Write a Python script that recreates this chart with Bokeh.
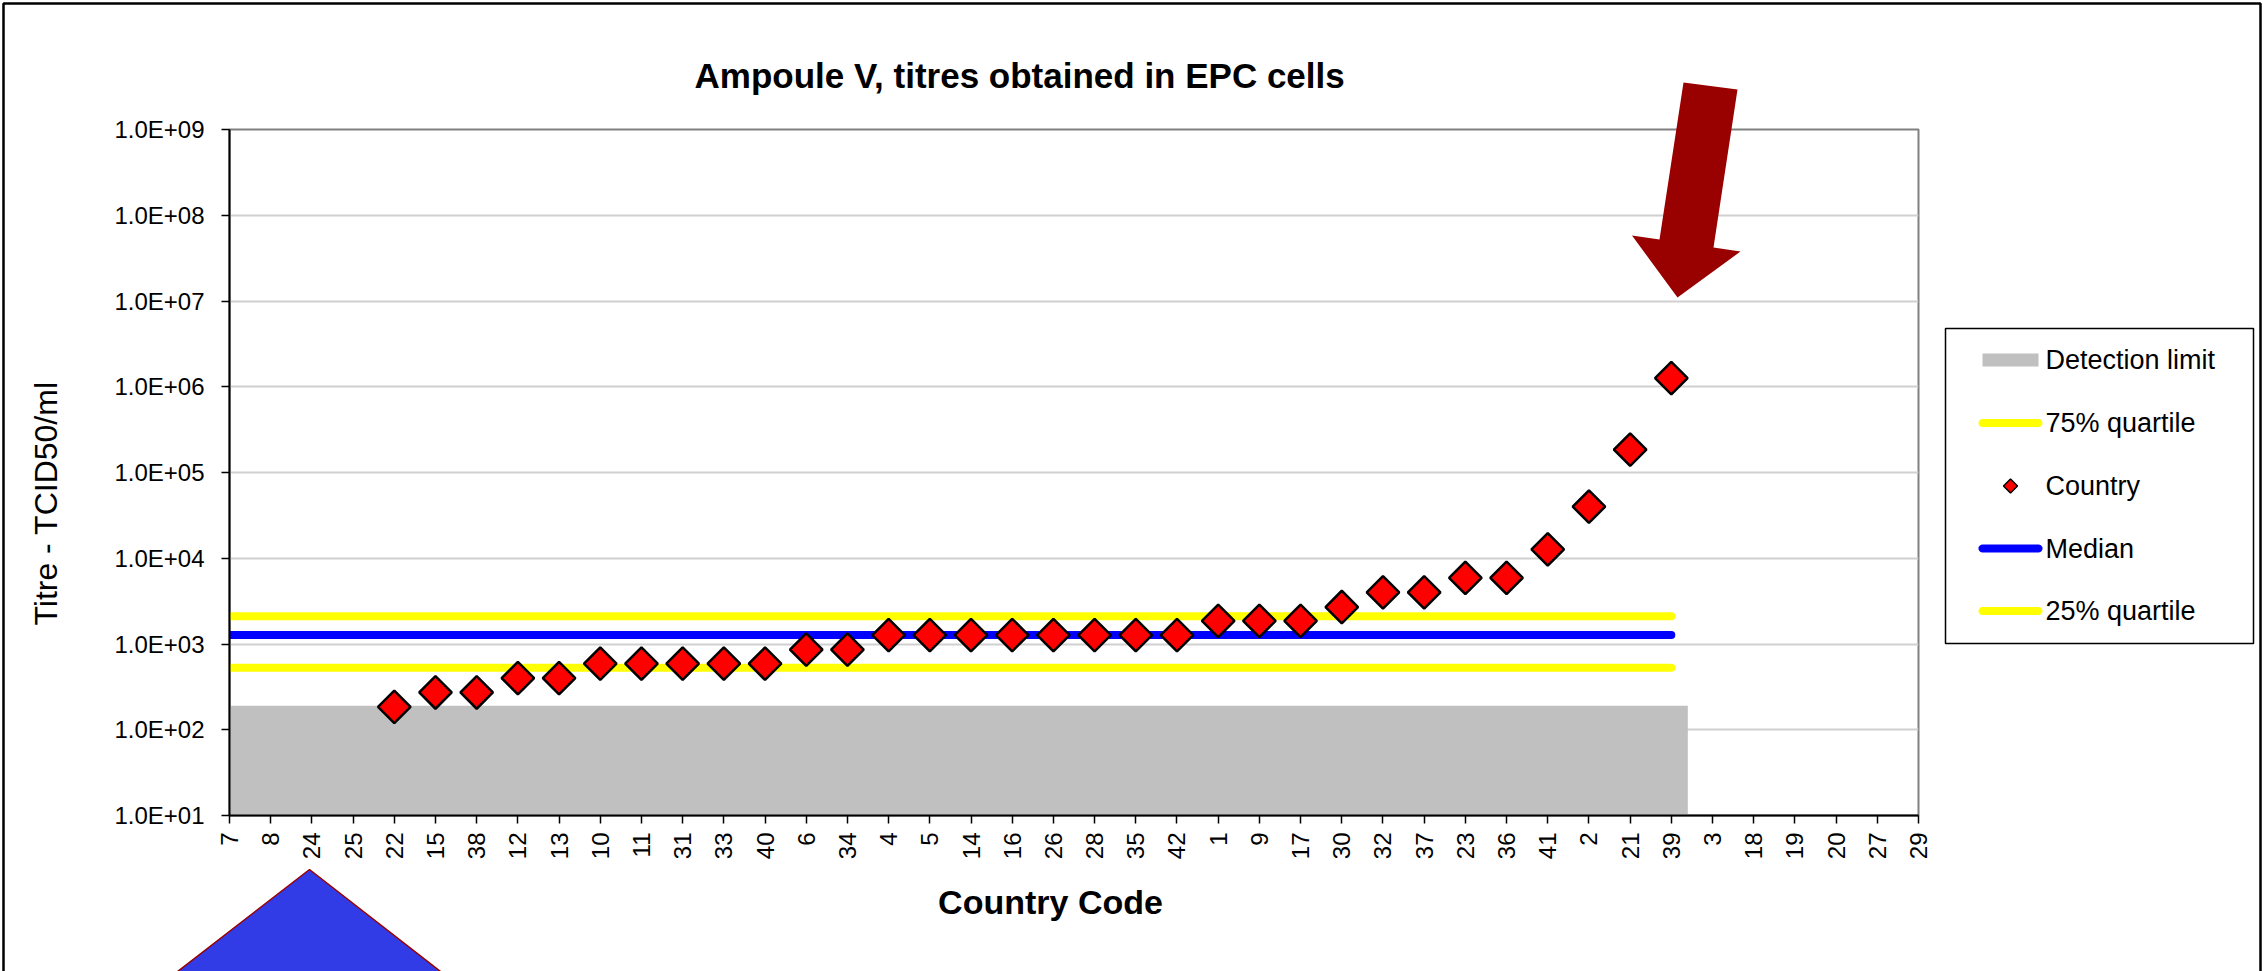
import math
from bokeh.plotting import figure
from bokeh.models import Range1d, FixedTicker
from bokeh.core.properties import value
from bokeh.embed import file_html
from bokeh.resources import INLINE

nan = float("nan")

# ---------------- data ----------------
country_codes = ["7", "8", "24", "25", "22", "15", "38", "12", "13", "10", "11", "31",
                 "33", "40", "6", "34", "4", "5", "14", "16", "26", "28", "35", "42",
                 "1", "9", "17", "30", "32", "37", "23", "36", "41", "2", "21", "39",
                 "3", "18", "19", "20", "27", "29"]
titres = [nan, nan, nan, nan,
          185, 272, 272, 400, 400,
          590, 590, 590, 590, 590,
          860, 860,
          1270, 1270, 1270, 1270, 1270, 1270, 1270, 1270,
          1860, 1860, 1860,
          2700, 4000, 4000, 5900, 5900,
          12700, 40000, 185000, 1260000,
          nan, nan, nan, nan, nan, nan]
detection_limit = 190
quartile_75 = 2100
median_titre = 1270
quartile_25 = 530
y_tick_values = [1e1, 1e2, 1e3, 1e4, 1e5, 1e6, 1e7, 1e8, 1e9]
legend_labels = ["Detection limit", "75% quartile", "Country", "Median", "25% quartile"]
title_text = "Ampoule V, titres obtained in EPC cells"
x_title = "Country Code"
y_title = "Titre - TCID50/ml"

FONT = "Liberation Sans"
GREY, YELLOW, BLUE, RED = "#C0C0C0", "#FFFF00", "#0000FF", "#FF0000"

# ---------------- layout ----------------
W, H = 2268, 971
FL, FR, FT, FB = 229, 1918, 129, 815      # frame edges inside the figure (px)

n = len(country_codes)
idx = list(range(n))
last_idx = max(i for i, v in enumerate(titres) if v == v)

p = figure(width=W, height=H, output_backend="svg", toolbar_location=None,
           x_range=Range1d(0, n - 1),
           y_range=Range1d(y_tick_values[0], y_tick_values[-1]),
           y_axis_type="log",
           min_border_left=FL, min_border_right=W - FR,
           min_border_top=FT, min_border_bottom=H - FB,
           title=title_text)
p.background_fill_color = "white"
p.border_fill_color = "white"
p.outline_line_color = "#808080"
p.outline_line_width = 2

# title
p.title.text_font = FONT
p.title.text_font_size = "35px"
p.title.text_font_style = "bold"
p.title.text_color = "black"
p.title.align = "left"
p.title.offset = 694 - FL
p.title.standoff = 70

# grids
p.xgrid.visible = False
p.ygrid.grid_line_color = "#D0D0D0"
p.ygrid.grid_line_width = 2

# axes
p.xaxis.ticker = FixedTicker(ticks=idx)
p.xaxis.major_label_overrides = {i: c for i, c in enumerate(country_codes)}
p.xaxis.major_label_orientation = math.pi / 2
p.yaxis.ticker = FixedTicker(ticks=y_tick_values)
p.yaxis.major_label_overrides = {v: f"{v:.1E}" for v in y_tick_values}

for ax in (p.xaxis[0], p.yaxis[0]):
    ax.axis_line_color = "black"
    ax.axis_line_width = 2
    ax.major_tick_line_color = "black"
    ax.major_tick_line_width = 1.5
    ax.major_tick_out = 8
    ax.major_tick_in = 0
    ax.minor_tick_line_color = None
    ax.major_label_text_font = FONT
    ax.major_label_text_font_size = "24px"
    ax.major_label_text_color = "black"

p.yaxis.major_label_standoff = 17
p.xaxis.major_label_standoff = 9

# ---------------- data glyphs ----------------
p.quad(left=[idx[0] - 0.5], right=[last_idx + 0.4],
       bottom=[y_tick_values[0]], top=[detection_limit],
       fill_color=GREY, line_color=None)

x_line = idx[:last_idx + 1]
for val, col in ((quartile_75, YELLOW), (median_titre, BLUE), (quartile_25, YELLOW)):
    p.line(x_line, [val] * len(x_line), line_color=col, line_width=8, line_cap="round")
p.scatter(idx, titres, marker="square", angle=math.pi / 4, size=23,
          fill_color=RED, line_color="#000000", line_width=2.5)


# ---------------- annotations (positioned in reference pixels) ----------------
def px_to_x(px):
    return (px - FL) / (FR - FL) * (n - 1)


def py_to_y(py):
    lo, hi = math.log10(y_tick_values[0]), math.log10(y_tick_values[-1])
    return 10 ** (lo + (FB - py) / (FB - FT) * (hi - lo))


def shape(pts, **kw):
    p.patch([px_to_x(a) for a, b in pts], [py_to_y(b) for a, b in pts],
            level="overlay", **kw)


def stadium(x0, x1, yc, r, k=10):
    pts = []
    for j in range(k + 1):
        t = -math.pi / 2 + math.pi * j / k
        pts.append((x1 + r * math.cos(t), yc + r * math.sin(t)))
    for j in range(k + 1):
        t = math.pi / 2 + math.pi * j / k
        pts.append((x0 + r * math.cos(t), yc + r * math.sin(t)))
    return pts


# axis titles
p.text(x=[px_to_x(1050)], y=[py_to_y(901)], text=[x_title], text_font=value(FONT),
       text_font_size="34px", text_font_style="bold", text_color="black",
       text_align="center", text_baseline="middle", level="overlay")
p.text(x=[px_to_x(45)], y=[py_to_y(503)], text=[y_title], text_font=value(FONT),
       text_font_size="32px", text_color="black", angle=math.pi / 2,
       text_align="center", text_baseline="middle", level="overlay")

# red arrow and blue triangle
shape([(1683, 82), (1737, 89), (1713, 247), (1740, 251), (1677, 297),
       (1631.5, 235), (1659, 239)], fill_color="#990000", line_color=None)
shape([(309, 869), (159, 985), (458, 985)],
      fill_color="#323CE6", line_color="#990000", line_width=1.5)

# outer chart border
shape([(3, 3), (2260, 3), (2260, 1000), (3, 1000)],
      fill_color=None, line_color="#000000", line_width=2.5)

# legend
LX0, LX1, LY0, LY1 = 1945, 2253, 328, 643
rows = [359.5, 422.5, 485.5, 548, 610.5]
shape([(LX0, LY0), (LX1, LY0), (LX1, LY1), (LX0, LY1)],
      fill_color="white", line_color="#000000", line_width=1.5)
s0, s1 = 1982, 2038
shape([(s0, rows[0] - 6.5), (s1, rows[0] - 6.5), (s1, rows[0] + 6.5), (s0, rows[0] + 6.5)],
      fill_color=GREY, line_color=None)
shape(stadium(s0, s1, rows[1], 4), fill_color=YELLOW, line_color=None)
dc, dr = (s0 + s1) / 2, 7
shape([(dc, rows[2] - dr), (dc + dr, rows[2]), (dc, rows[2] + dr), (dc - dr, rows[2])],
      fill_color=RED, line_color="#000000", line_width=1.5)
shape(stadium(s0, s1, rows[3], 4), fill_color=BLUE, line_color=None)
shape(stadium(s0, s1, rows[4], 4), fill_color=YELLOW, line_color=None)
p.text(x=[px_to_x(2045)] * len(legend_labels), y=[py_to_y(r) for r in rows],
       text=legend_labels, text_font=value(FONT), text_font_size="27px",
       text_color="black", text_align="left", text_baseline="middle", level="overlay")

open("out.html", "w").write(file_html(p, INLINE))
